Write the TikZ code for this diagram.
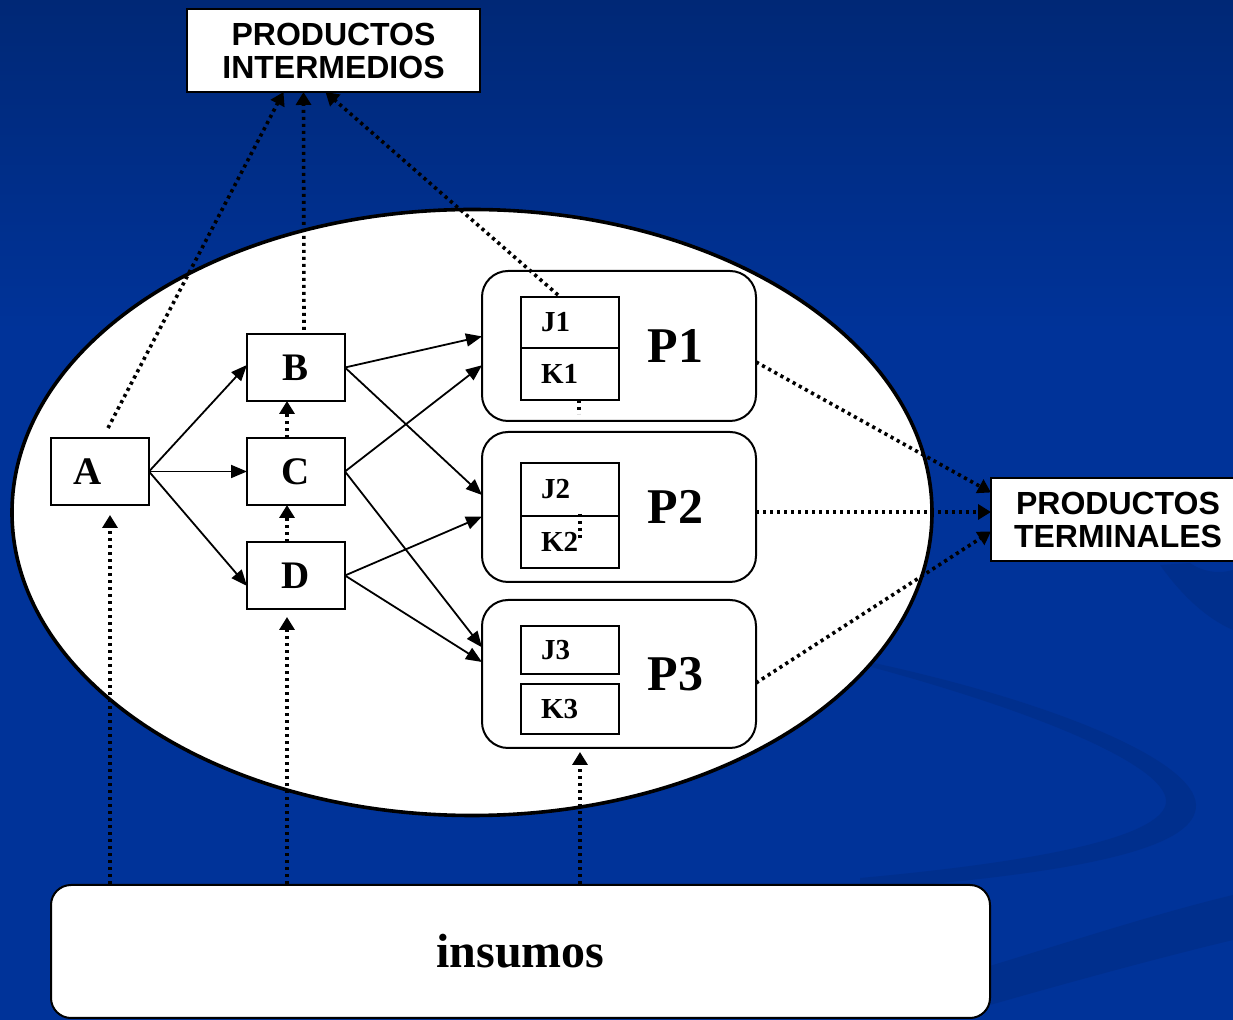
\documentclass[tikz,border=0pt]{standalone}
\usepackage{fontspec}
\setmainfont{Liberation Serif}
\newfontfamily\boxsans{Liberation Sans}
\usetikzlibrary{positioning,arrows.meta,shapes.geometric}
\definecolor{bgtop}{RGB}{0,40,118}
\definecolor{bgmain}{RGB}{0,51,153}
\definecolor{swirl}{RGB}{0,47,141}
\tikzset{
  box/.style={draw,fill=white,line width=1pt,outer sep=0pt,inner sep=0pt,
    minimum width=49pt,minimum height=33.5pt,font=\bfseries\fontsize{19.5}{20}\selectfont},
  sub/.style={draw,fill=white,line width=1pt,outer sep=0pt,inner ysep=0pt,inner xsep=10pt,
    text width=29pt,align=left,font=\bfseries\fontsize{14.5}{15}\selectfont},
  proc/.style={draw,fill=white,line width=1pt,rounded corners=13pt,outer sep=0pt,
    minimum width=137pt,minimum height=75pt,inner xsep=26.5pt,text width=84pt,align=right,
    font=\bfseries\fontsize{25}{26}\selectfont},
  outbox/.style={draw,fill=white,line width=1pt,outer sep=0pt,minimum height=41.5pt,
    align=center,font=\boxsans\bfseries\fontsize{16}{16.5}\selectfont},
  flow/.style={-{Triangle[length=8pt,width=6.5pt]},line width=0.9pt},
  dotl/.style={line width=1.8pt,dash pattern=on 1.6pt off 1.9pt},
  dotarr/.style={dotl,-{Triangle[length=6.5pt,width=7.5pt]}},
}
\begin{document}
\begin{tikzpicture}[x=0.5pt,y=-0.5pt]
\fill[bgmain] (0,0) rectangle (1233,1020);
\shade[top color=bgtop,bottom color=bgmain] (0,0) rectangle (1233,330);
\fill[swirl] (860,660) .. controls (1050,700) and (1195,760) .. (1196,805)
  .. controls (1197,845) and (1100,872) .. (860,890) -- (860,878)
  .. controls (1080,858) and (1168,830) .. (1166,800)
  .. controls (1163,765) and (1040,712) .. (860,664) -- cycle;
\fill[swirl] (960,975) .. controls (1060,945) and (1150,915) .. (1233,895)
  -- (1233,940) .. controls (1150,960) and (1060,985) .. (990,1005) -- cycle;
\fill[swirl] (1160,565) .. controls (1185,600) and (1210,620) .. (1233,630)
  -- (1233,570) .. controls (1215,575) and (1200,570) .. (1190,563) -- cycle;
\useasboundingbox (0,0) rectangle (1233,1020);

\node[ellipse,draw,fill=white,line width=1.8pt,minimum width=460pt,minimum height=303pt] (firm) at (472,512.5) {};

\node[outbox,minimum width=146.5pt] (pint) at (333.5,50.5) {PRODUCTOS\\INTERMEDIOS};
\node[outbox,minimum width=127pt] (pterm) at (1118,519.5) {PRODUCTOS\\TERMINALES};
\node[draw,fill=white,line width=1pt,rounded corners=10pt,minimum width=469.5pt,minimum height=66.5pt,
  font=\bfseries\fontsize{24}{25}\selectfont] (ins) at (520.5,951.5) {insumos};

\node[box,text width=27pt,inner xsep=11pt,align=left] (a) at (100,471.5) {A};
\node[box] (c) at (296,471.5) {C};
\node[box,above=18.5pt of c] (b) {B};
\node[box,below=18.5pt of c] (d) {D};

\node[proc] (p1) at (619,346) {P1};
\node[proc,below=5.5pt of p1] (p2) {P2};
\node[proc,below=9pt of p2,minimum height=74pt] (p3) {P3};

\node[sub,minimum height=25.5pt] (j1) at (570,322.5) {J1};
\node[sub,minimum height=26pt,below=0pt of j1] (k1) {K1};
\node[sub,minimum height=26.5pt] (j2) at (570,489.5) {J2};
\node[sub,minimum height=26pt,below=0pt of j2] (k2) {K2};
\node[sub,minimum height=24pt] (j3) at (570,650) {J3};
\node[sub,minimum height=25pt,below=5pt of j3] (k3) {K3};

\draw[flow] (a.east) -- (b.177);
\draw[flow] (a.east) -- (c.west);
\draw[flow] (a.east) -- (d.192);
\draw[flow] (b.east) -- (p1.176);
\draw[flow] (b.east) -- (p2.175);
\draw[flow] (c.east) -- (p1.188);
\draw[flow] (c.east) -- (p3.169);
\draw[flow] (d.east) -- (p2.184);
\draw[flow] (d.east) -- (p3.175);

\draw[dotarr] ([shift={(4pt,5pt)}]a.north) -- ([xshift=-25pt]pint.south);
\draw[dotarr] ([shift={(4pt,2pt)}]b.north) -- ([xshift=-15pt]pint.south);
\draw[dotarr] ([shift={(-6pt,1pt)}]j1.north) -- ([xshift=-4pt]pint.south);
\draw[dotarr] ([xshift=-4.5pt]c.north) -- ([xshift=-4.5pt]b.south);
\draw[dotarr] ([xshift=-4.5pt]d.north) -- ([xshift=-4.5pt]c.south);
\draw[dotarr] ([xshift=5pt]a.south |- ins.north) -- ([shift={(5pt,-5pt)}]a.south);
\draw[dotarr] ([xshift=-4.5pt]d.south |- ins.north) -- ([shift={(-4.5pt,-4pt)}]d.south);
\draw[dotarr] ([xshift=-19.5pt]p3.south |- ins.north) -- ([shift={(-19.5pt,-2pt)}]p3.south);
\draw[dotarr] ([yshift=-8pt]p1.east) -- ([yshift=13.5pt]pterm.west);
\draw[dotarr] ([yshift=-2.5pt]p2.east) -- ([yshift=3.75pt]pterm.west);
\draw[dotarr] ([yshift=-4.5pt]p3.east) -- ([yshift=-6pt]pterm.west);
\draw[dotl] ([xshift=4.5pt]k1.south) -- ++(0,14);
\draw[dotl] ([shift={(5pt,1pt)}]j2.south) -- ++(0,26);
\end{tikzpicture}
\end{document}
